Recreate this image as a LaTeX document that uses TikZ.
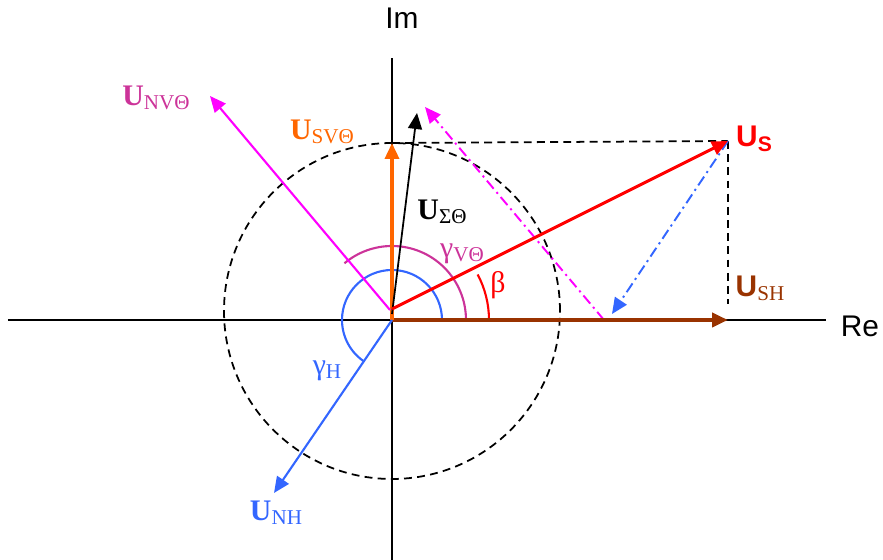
\documentclass[tikz,border=0pt]{standalone}
\usepackage{fontspec}
\setmainfont{Liberation Serif}
\newfontfamily\arialfont{Liberation Sans}
\usepackage{xcolor}
\usetikzlibrary{arrows.meta}

\definecolor{vorange}{HTML}{FF6600}
\definecolor{vbrown}{HTML}{993300}
\definecolor{vblue}{HTML}{3366FF}
\definecolor{vpurple}{HTML}{CC3399}
\definecolor{vmagenta}{HTML}{FF00FF}

% vector label: bold U with lowered small index
\newcommand{\vecU}[1]{\textbf{U}\raisebox{-0.3ex}{\fontsize{12}{12}\selectfont #1}}
\newcommand{\idx}[1]{\raisebox{-0.3ex}{\fontsize{12}{12}\selectfont #1}}

\begin{document}
\begin{tikzpicture}[x=0.02cm, y=0.02cm,
    font=\fontsize{17}{20}\selectfont,
    vec/.style={line width=1.3pt, -{Triangle[length=3.2mm,width=2.8mm]}},
    aux/.style={line width=1pt, dash pattern=on 4.5pt off 3pt},
    proj/.style={line width=1.1pt, dash pattern=on 6pt off 2.5pt on 1.2pt off 2.5pt,
      -{Triangle[length=3.2mm,width=2.8mm]}},
    angle/.style={line width=1.2pt},
    axis/.style={line width=1.1pt}]
  \useasboundingbox (-392,-240) rectangle (491,320);
  % axes
  \coordinate (O) at (0,0);
  \coordinate (reL) at (-384,0);
  \coordinate (reR) at (434,0);
  \coordinate (imB) at (0,-240);
  \coordinate (imT) at (0,262);
  \draw[axis] (reL) -- (reR);
  \draw[axis] (imB) -- (imT);
  \node (re) at (468,-6) {\arialfont Re};
  \node (im) at (10,302) {\arialfont Im};
  % circle of |U_SV|
  \draw[aux] (0,9) circle (168);
  % points
  \coordinate (S)  at (336,179);
  \coordinate (SH) at (336,0);
  \coordinate (SV) at (0,177);
  \coordinate (NV) at (-182,224);
  \coordinate (Sig) at (25,207);
  \coordinate (NH) at (-118,-173);
  \coordinate (Sbase) at (0,11);
  \coordinate (NVbase) at (-2,10);
  \coordinate (Sigbase) at (0,6);
  \coordinate (SHm) at (212,0);
  \coordinate (NVm) at (33,213);
  \coordinate (NHm) at (220,6);
  \coordinate (SHtop) at (336,16);
  % helper lines
  \draw[aux] (SV) -- (S);
  \draw[aux] (S) -- (SHtop);
  \draw[proj, vmagenta] (SHm) -- (NVm);
  \draw[proj, vblue] (S) -- (NHm);
  % angle arcs
  \draw[angle, vblue] (50,0) arc[start angle=0, end angle=235, radius=50];
  \draw[angle, vpurple] (74,0) arc[start angle=0, end angle=130, radius=74];
  \draw[angle, red] (97,0) arc[start angle=0, end angle=28, radius=97];
  % vectors
  \draw[vec, vbrown, line width=2.2pt] (O) -- (SH);
  \draw[vec, vorange, line width=2pt] (O) -- (SV);
  \draw[vec, vmagenta, line width=1.2pt] (NVbase) -- (NV);
  \draw[vec, black, line width=1pt] (Sigbase) -- (Sig);
  \draw[vec, vblue, line width=1.2pt] (O) -- (NH);
  \draw[vec, red, line width=1.7pt] (Sbase) -- (S);
  % labels
  \node[vpurple] (lNV) at (-236,222) {\vecU{NVΘ}};
  \node[vorange] (lSV) at (-70,188) {\vecU{SVΘ}};
  \node (lSig) at (50,108) {\vecU{ΣΘ}};
  \node[vpurple] (lgV) at (70,66) {γ\idx{VΘ}};
  \node[red] (lb) at (106,35) {β};
  \node[red] (lS) at (362,181) {\arialfont\bfseries U\idx{S}};
  \node[vbrown] (lSH) at (368,32) {{\arialfont\bfseries U}\idx{SH}};
  \node[vblue] (lgH) at (-65,-51) {γ\idx{H}};
  \node[vblue] (lNH) at (-116,-193) {\vecU{NH}};
\end{tikzpicture}
\end{document}
